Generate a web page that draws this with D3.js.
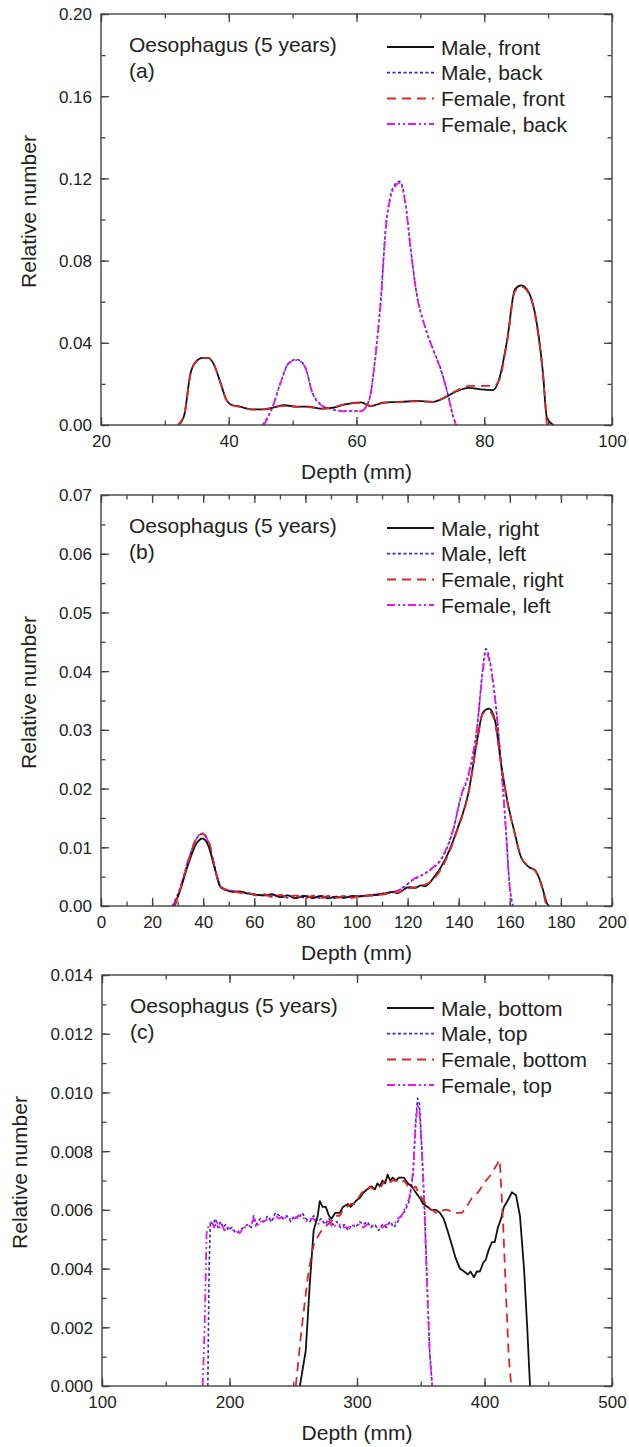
<!DOCTYPE html>
<html>
<head>
<meta charset="utf-8">
<script src="https://cdn.jsdelivr.net/npm/d3@7"></script>
<style>
  body { margin: 0; background: #fff; }
  svg text { font-family: "Liberation Sans", Arial, sans-serif; fill: #222; }
</style>
</head>
<body>
<div id="chart"></div>
<script>
// ---- panel (a): front / back ----
const maleFrontA = [[32.1,0],[33,0.0044],[34,0.025],[34.9,0.031],[35.9,0.0327],[36.8,0.0327],[37.8,0.0287],[38.7,0.0206],[39.6,0.0125],[40.3,0.010],[41.8,0.0089],[43.7,0.0076],[45.6,0.0076],[46.9,0.0084],[48.7,0.0096],[50.6,0.0089],[52.5,0.0089],[54.4,0.008],[56.3,0.0084],[58.2,0.010],[60.7,0.011],[62.2,0.0092],[64.4,0.011],[66.9,0.0112],[69.4,0.0117],[72,0.0113],[73.8,0.0133],[75.7,0.0165],[77.6,0.0181],[79.5,0.0173],[81.4,0.017],[82.3,0.022],[83.6,0.0416],[84.8,0.066],[85.8,0.0679],[87,0.0643],[88.3,0.048],[89.2,0.025],[89.8,0.0036],[90.8,0]];
const maleBackA = [[45.3,0],[46.9,0.0092],[48.1,0.0206],[49.4,0.0303],[50.6,0.0319],[51.9,0.0287],[53.1,0.0157],[54.4,0.010],[56.3,0.0076],[58.2,0.0068],[60.7,0.0068],[62,0.0125],[62.9,0.0319],[63.8,0.061],[64.7,0.100],[66,0.117],[66.8,0.1186],[67.6,0.1096],[68.5,0.0853],[69.4,0.0643],[70.7,0.0481],[72,0.0368],[73.2,0.027],[74.5,0.0125],[75.1,0.0044],[75.7,0]];
const femaleFrontA = [[32,0],[33,0.0048],[34,0.0245],[34.9,0.031],[35.9,0.0325],[36.8,0.0325],[37.8,0.0285],[38.7,0.0204],[39.6,0.0124],[40.3,0.0098],[41.8,0.0088],[43.7,0.0075],[45.6,0.0077],[46.9,0.0086],[48.7,0.0093],[50.6,0.0088],[52.5,0.0087],[54.4,0.0078],[56.3,0.0086],[58.2,0.0101],[60.7,0.0108],[62.2,0.0093],[64.4,0.0108],[66.9,0.0111],[69.4,0.0115],[72,0.0112],[73.8,0.0135],[75.7,0.0168],[77.6,0.019],[79.5,0.019],[81.4,0.019],[82.3,0.0215],[83.6,0.041],[84.8,0.065],[85.8,0.0672],[87,0.0638],[88.3,0.047],[89.2,0.024],[89.8,0]];
const femaleBackA = [[45.5,0],[46.9,0.009],[48.1,0.0204],[49.4,0.030],[50.6,0.0316],[51.9,0.0285],[53.1,0.0155],[54.4,0.0098],[56.3,0.0075],[58.2,0.0067],[60.7,0.0067],[62,0.0123],[62.9,0.0315],[63.8,0.060],[64.7,0.099],[66,0.116],[66.8,0.1178],[67.6,0.109],[68.5,0.085],[69.4,0.064],[70.7,0.048],[72,0.0365],[73.2,0.0268],[74.5,0.0123],[75.1,0.0042],[75.6,0]];

// ---- panel (b): right / left ----
const maleRightB = [[28.7,0],[31,0.0027],[34.2,0.0072],[37.3,0.0106],[39.7,0.0115],[42,0.0103],[44.4,0.0066],[46.8,0.0032],[49,0.0027],[51.5,0.0024],[54,0.0025],[57.7,0.0021],[61,0.0019],[64,0.0018],[67,0.0020],[70.3,0.0015],[73,0.0018],[76,0.0014],[79.7,0.0017],[83,0.0014],[86,0.0017],[89,0.0013],[92,0.0016],[95,0.0014],[98.5,0.0017],[101,0.0016],[104,0.0018],[108,0.0019],[111,0.0021],[114,0.0024],[116,0.0022],[120.5,0.0032],[123,0.0031],[125.2,0.0035],[127,0.0034],[130,0.0047],[134.6,0.0078],[139.3,0.0129],[144,0.0197],[147.2,0.0282],[149.5,0.033],[151.9,0.0336],[154.2,0.0316],[156.6,0.0242],[159,0.018],[162,0.0123],[164.4,0.0083],[167.6,0.0066],[169.9,0.0061],[172.3,0.0038],[174.6,0.0004],[175.4,0]];
const maleLeftB = [[27.9,0],[31,0.0030],[34.2,0.0078],[37.3,0.0114],[39.7,0.0123],[42,0.0108],[44.4,0.0068],[46.8,0.0033],[49,0.0028],[51.5,0.0025],[54,0.0024],[57.7,0.0022],[61,0.0018],[64,0.0019],[67,0.0016],[70.3,0.0019],[73,0.0014],[76,0.0018],[79.7,0.0014],[83,0.0018],[86,0.0013],[89,0.0017],[92,0.0013],[95,0.0017],[98.5,0.0015],[101,0.0018],[104,0.0017],[108,0.0019],[111,0.0022],[114,0.0023],[118,0.0031],[122,0.0044],[126.8,0.0055],[130,0.0065],[133,0.0078],[137.8,0.0129],[140.9,0.0186],[144,0.0225],[147.2,0.0305],[149.5,0.0407],[150.6,0.0438],[152.2,0.0418],[154.2,0.0356],[156.6,0.0242],[158.5,0.0129],[160,0.0032],[161.3,0]];
const femaleRightB = [[28.9,0],[31,0.0029],[34.2,0.0076],[37.3,0.0114],[39.7,0.0123],[42,0.0112],[43,0.0098],[44.4,0.0068],[46.8,0.0033],[49,0.0028],[51.5,0.0025],[54,0.0023],[57.7,0.0022],[61,0.0018],[64,0.0020],[67,0.0015],[70.3,0.0019],[73,0.0014],[76,0.0018],[79.7,0.0013],[83,0.0017],[86,0.0014],[89,0.0017],[92,0.0014],[95,0.0017],[98.5,0.0014],[101,0.0017],[104,0.0017],[108,0.0019],[111,0.0020],[114,0.0023],[117,0.0024],[120.5,0.0030],[125.2,0.0034],[130,0.0045],[134.6,0.0075],[139.3,0.0127],[144,0.0196],[147.2,0.0280],[149.5,0.0328],[151.9,0.0332],[154.2,0.0312],[156.6,0.0240],[159,0.0178],[162,0.0122],[164.4,0.0083],[167.6,0.0067],[169.9,0.0060],[172.3,0.0036],[174.3,0]];
const femaleLeftB = [[28.2,0],[31,0.0031],[34.2,0.0079],[37.3,0.0115],[39.7,0.0124],[42,0.0109],[44.4,0.0069],[46.8,0.0034],[49,0.0028],[51.5,0.0026],[54,0.0023],[57.7,0.0021],[61,0.0019],[64,0.0017],[67,0.0019],[70.3,0.0015],[73,0.0018],[76,0.0013],[79.7,0.0018],[83,0.0013],[86,0.0017],[89,0.0014],[92,0.0016],[95,0.0014],[98.5,0.0017],[101,0.0017],[104,0.0018],[108,0.0020],[111,0.0021],[114,0.0024],[118,0.0030],[122,0.0045],[126.8,0.0056],[130,0.0066],[133,0.0080],[137.8,0.0130],[140.9,0.0188],[144,0.0228],[147.2,0.0303],[149.5,0.0402],[150.6,0.0432],[152.2,0.0414],[154.2,0.0352],[156.6,0.0240],[158.5,0.0127],[160,0.0030],[161,0]];

// ---- panel (c): bottom / top ----
const maleBottomC = [[255.2,0],[259.8,0.0012],[263,0.0035],[266,0.0053],[269.2,0.0058],[270.8,0.0063],[273,0.0061],[275.5,0.0061],[278,0.0058],[280,0.0057],[283,0.0059],[286.5,0.0059],[289,0.0061],[292.8,0.0062],[295,0.0061],[299,0.0063],[302,0.0064],[305.3,0.0066],[308,0.0067],[311.6,0.0068],[314,0.0067],[316,0.0069],[318,0.0068],[320,0.0070],[322,0.0069],[324,0.0072],[326,0.0070],[328,0.0071],[330.4,0.0070],[333,0.0071],[336.7,0.0071],[340,0.0069],[343,0.0068],[346,0.0066],[349.3,0.0064],[352,0.0062],[355.5,0.0061],[358,0.0060],[361.8,0.0060],[365,0.0059],[368,0.0057],[371,0.0053],[374.4,0.0048],[377,0.0044],[380.7,0.0040],[384,0.0039],[387,0.0038],[389,0.0039],[391.7,0.0037],[394,0.0039],[396.4,0.0039],[399,0.0042],[401,0.0043],[403,0.0046],[405.8,0.0049],[408,0.0049],[410.5,0.0054],[413,0.0057],[415.2,0.0061],[418,0.0063],[421.5,0.0066],[424.7,0.0065],[427.8,0.0058],[431,0.0040],[433.5,0.0020],[435.7,0]];
const maleTopC = [[183,0],[184,0.0040],[185,0.0056],[187,0.0055],[189,0.0057],[191,0.0054],[193,0.0056],[195,0.0054],[197,0.0055],[199,0.0053],[202,0.0054],[205,0.0052],[208,0.0053],[211,0.0054],[214,0.0055],[217,0.0054],[219,0.0058],[221,0.0055],[224,0.0057],[227,0.0056],[230,0.0058],[233,0.0056],[236,0.0059],[239,0.0058],[242,0.0057],[245,0.0058],[248,0.0056],[251,0.0058],[254,0.0057],[257,0.0059],[260,0.0057],[263,0.0056],[266,0.0058],[269,0.0056],[272,0.0057],[275,0.0055],[278,0.0057],[281,0.0055],[284,0.0056],[287,0.0054],[290,0.0055],[293,0.0053],[296,0.0055],[299,0.0054],[302,0.0056],[305,0.0055],[308,0.0056],[311,0.0054],[314,0.0055],[317,0.0053],[320,0.0055],[323,0.0054],[326,0.0056],[329,0.0054],[332,0.0056],[335,0.0058],[338,0.0060],[341,0.0063],[344,0.0072],[346,0.0090],[347.5,0.0098],[349,0.0096],[351,0.0080],[353,0.0060],[355,0.0035],[357,0.0012],[359,0]];
const femaleBottomC = [[252,0],[256.7,0.0020],[261.4,0.0037],[264,0.0044],[266,0.0048],[268,0.0050],[270.8,0.0052],[274,0.0054],[277,0.0055],[280,0.0056],[283,0.0058],[286.5,0.0058],[289,0.0060],[292,0.0061],[295,0.0062],[298,0.0062],[301,0.0064],[304,0.0066],[307,0.0066],[310,0.0068],[313,0.0067],[316,0.0068],[319,0.0068],[322,0.0070],[325,0.0069],[328,0.0070],[331,0.0070],[334,0.0069],[337,0.0070],[340,0.0068],[343,0.0067],[346,0.0068],[349,0.0065],[352.4,0.0063],[355,0.0061],[358.7,0.0060],[362,0.0059],[365,0.0059],[368,0.0060],[371.3,0.0060],[375,0.0059],[379,0.0059],[382.3,0.0059],[386,0.0061],[390,0.0064],[395,0.0066],[399.6,0.0069],[405,0.0072],[410.5,0.0076],[412,0.0077],[414.6,0.0055],[416.8,0.0032],[419,0.0010],[421,0]];
const femaleTopC = [[179,0],[180.5,0.0020],[182,0.0052],[184,0.0055],[186,0.0056],[188,0.0054],[190,0.0056],[192,0.0054],[194,0.0055],[196,0.0053],[199,0.0054],[202,0.0053],[205,0.0053],[208,0.0052],[211,0.0054],[214,0.0054],[217,0.0055],[219,0.0057],[221,0.0054],[224,0.0056],[227,0.0056],[230,0.0057],[233,0.0056],[236,0.0058],[239,0.0057],[242,0.0058],[245,0.0057],[248,0.0057],[251,0.0057],[254,0.0058],[257,0.0058],[260,0.0056],[263,0.0057],[266,0.0057],[269,0.0055],[272,0.0056],[275,0.0056],[278,0.0056],[281,0.0054],[284,0.0055],[287,0.0055],[290,0.0054],[293,0.0054],[296,0.0054],[299,0.0055],[302,0.0055],[305,0.0054],[308,0.0055],[311,0.0055],[314,0.0054],[317,0.0054],[320,0.0054],[323,0.0055],[326,0.0055],[329,0.0055],[332,0.0057],[335,0.0058],[338,0.0061],[341,0.0064],[344,0.0073],[346,0.0089],[347.5,0.0096],[349,0.0094],[351,0.0079],[353,0.0059],[355,0.0034],[357,0.0011],[359,0]];

const annotation = "Oesophagus (5 years)";
const xTitle = "Depth (mm)";
const yTitle = "Relative number";

const panels = [
  { tag: "(a)", top: 14, left: 101, xDom: [20, 100], xTicks: [20, 40, 60, 80, 100], xMinor: 10,
    yDom: [0, 0.2], yTicks: [0, 0.04, 0.08, 0.12, 0.16, 0.2], yMinor: 0.02, yFmt: ".2f", yTitleX: 36,
    names: ["Male, front", "Male, back", "Female, front", "Female, back"],
    series: [maleFrontA, maleBackA, femaleFrontA, femaleBackA], curve: d3.curveMonotoneX },
  { tag: "(b)", top: 495, left: 101, xDom: [0, 200], xTicks: d3.range(0, 201, 20), xMinor: 10,
    yDom: [0, 0.07], yTicks: d3.range(0, 0.0701, 0.01), yMinor: 0.005, yFmt: ".2f", yTitleX: 36,
    names: ["Male, right", "Male, left", "Female, right", "Female, left"],
    series: [maleRightB, maleLeftB, femaleRightB, femaleLeftB], curve: d3.curveMonotoneX },
  { tag: "(c)", top: 975, left: 102, xDom: [100, 500], xTicks: [100, 200, 300, 400, 500], xMinor: 50,
    yDom: [0, 0.014], yTicks: d3.range(0, 0.01401, 0.002), yMinor: 0.001, yFmt: ".3f", yTitleX: 27,
    names: ["Male, bottom", "Male, top", "Female, bottom", "Female, top"],
    series: [maleBottomC, maleTopC, femaleBottomC, femaleTopC], curve: d3.curveLinear }
];

// black solid, blue dotted, red dashed, magenta dash-dot-dot
const styles = [
  { color: "#111", dash: null, w: 1.8 },
  { color: "#2b2bd6", dash: "3,2.5", w: 1.6 },
  { color: "#e02626", dash: "9,6", w: 1.8 },
  { color: "#f013f0", dash: "8,3,2,3,2,3", w: 1.8 }
];
const drawOrder = [1, 3, 0, 2];

const width = 629, height = 1447;
const right = 612, plotH = 411;
const axisColor = "#444";

const svg = d3.select("#chart").append("svg")
  .attr("width", width)
  .attr("height", height);

panels.forEach(p => {
  const x = d3.scaleLinear().domain(p.xDom).range([p.left, right]);
  const y = d3.scaleLinear().domain(p.yDom).range([p.top + plotH, p.top]);
  const bottom = p.top + plotH;
  const g = svg.append("g");

  const xMinorTicks = d3.range(p.xDom[0], p.xDom[1] + 0.0001, p.xMinor);
  const yMinorTicks = d3.range(p.yDom[0], p.yDom[1] + 1e-9, p.yMinor);

  // inward ticks on all four sides
  const addAxis = (axis, tr) => g.append("g").attr("transform", tr).call(axis)
    .call(a => a.select(".domain").remove())
    .call(a => a.selectAll("line").attr("stroke", axisColor).attr("stroke-width", 1.3));

  addAxis(d3.axisBottom(x).tickValues(xMinorTicks).tickSize(-4.5).tickFormat(""), `translate(0,${bottom})`);
  addAxis(d3.axisTop(x).tickValues(xMinorTicks).tickSize(-4.5).tickFormat(""), `translate(0,${p.top})`);
  addAxis(d3.axisLeft(y).tickValues(yMinorTicks).tickSize(-4.5).tickFormat(""), `translate(${p.left},0)`);
  addAxis(d3.axisRight(y).tickValues(yMinorTicks).tickSize(-4.5).tickFormat(""), `translate(${right},0)`);
  addAxis(d3.axisTop(x).tickValues(p.xTicks).tickSize(-8).tickFormat(""), `translate(0,${p.top})`);
  addAxis(d3.axisRight(y).tickValues(p.yTicks).tickSize(-8).tickFormat(""), `translate(${right},0)`);

  const xAx = addAxis(d3.axisBottom(x).tickValues(p.xTicks).tickSize(-8).tickPadding(0).tickFormat(d3.format("d")), `translate(0,${bottom})`);
  xAx.selectAll("text").attr("y", 22).attr("dy", null).style("font-size", "17px").attr("fill", "#222");

  const yAx = addAxis(d3.axisLeft(y).tickValues(p.yTicks).tickSize(-8).tickPadding(0).tickFormat(d3.format(p.yFmt)), `translate(${p.left},0)`);
  yAx.selectAll("text").attr("x", -9).attr("dy", "0.35em").style("font-size", "17px").attr("fill", "#222");

  // series
  const line = d3.line().x(d => x(d[0])).y(d => y(d[1])).curve(p.curve);
  drawOrder.forEach(i => {
    const s = styles[i];
    g.append("path")
      .datum(p.series[i])
      .attr("fill", "none")
      .attr("stroke", s.color)
      .attr("stroke-width", s.w)
      .attr("stroke-dasharray", s.dash)
      .attr("stroke-linejoin", "round")
      .attr("d", line);
  });

  // frame
  g.append("rect")
    .attr("x", p.left).attr("y", p.top)
    .attr("width", right - p.left).attr("height", plotH)
    .attr("fill", "none").attr("stroke", axisColor).attr("stroke-width", 1.4);

  // annotation
  g.append("text").attr("x", p.left + 28).attr("y", p.top + 38)
    .style("font-size", "21px").text(annotation);
  g.append("text").attr("x", p.left + 28).attr("y", p.top + 64)
    .style("font-size", "21px").text(p.tag);

  // legend
  p.names.forEach((name, i) => {
    const ly = p.top + 33 + i * 25.7;
    const s = styles[i];
    g.append("line")
      .attr("x1", 387).attr("x2", 434).attr("y1", ly).attr("y2", ly)
      .attr("stroke", s.color).attr("stroke-width", s.w + 0.2)
      .attr("stroke-dasharray", s.dash);
    g.append("text").attr("x", 441).attr("y", ly + 7.5)
      .style("font-size", "21px").text(name);
  });

  // axis titles
  g.append("text")
    .attr("x", (p.left + right) / 2).attr("y", bottom + 54)
    .attr("text-anchor", "middle")
    .style("font-size", "21px").text(xTitle);
  g.append("text")
    .attr("transform", `translate(${p.yTitleX},${p.top + plotH / 2 - 8}) rotate(-90)`)
    .attr("text-anchor", "middle")
    .style("font-size", "21px").text(yTitle);
});
</script>
</body>
</html>
